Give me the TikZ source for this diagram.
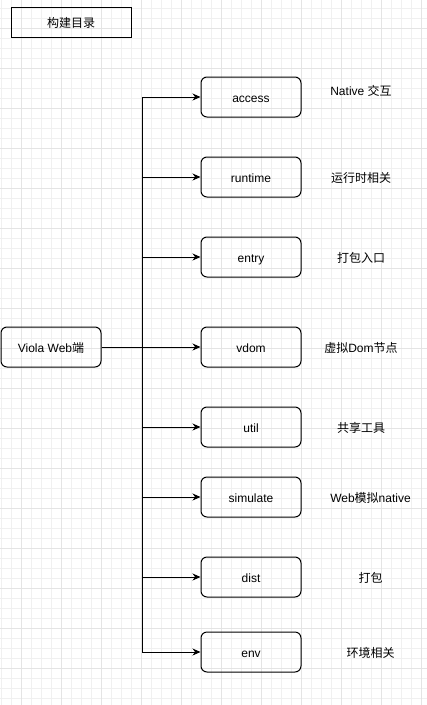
\documentclass[tikz,border=0pt]{standalone}
\usepackage{fontspec}
\setmainfont{Liberation Sans}
\newfontfamily\cjk{Noto Sans CJK SC}
\usetikzlibrary{arrows.meta}
\definecolor{gminor}{HTML}{F0F0F0}
\definecolor{gmajor}{HTML}{E4E4E4}
\begin{document}
\begin{tikzpicture}[x=1pt,y=-1pt,
  font=\fontsize{12}{14}\selectfont,
  every node/.style={text height=11pt, text depth=0.5pt},
  box/.style={draw, rounded corners=6pt, line width=1pt, minimum width=100pt, minimum height=40pt, inner sep=0pt},
  titlebox/.style={draw, line width=1pt, minimum width=120pt, minimum height=30pt, inner sep=0pt},
  lbl/.style={inner sep=0pt},
  conn/.style={line width=1pt, -{Stealth[length=8pt,width=7pt]}},
  trunk/.style={line width=1pt}]
\useasboundingbox (0,0) rectangle (427,705);
\fill[white] (0,0) rectangle (427,705);
% grid
\foreach \x in {1.7,11.7,...,427} \draw[gminor, line width=0.8pt] (\x,0) -- (\x,705);
\foreach \y in {8.3,18.3,...,705} \draw[gminor, line width=0.8pt] (0,\y) -- (427,\y);
\foreach \x in {21.7,61.7,...,427} \draw[gmajor, line width=0.8pt] (\x,0) -- (\x,705);
\foreach \y in {28.3,68.3,...,705} \draw[gmajor, line width=0.8pt] (0,\y) -- (427,\y);
% title
\node[titlebox] (title) at (71,22) {\cjk 构建目录};
% root
\node[box] (viola) at (51,347) {Viola Web{\cjk 端}};
% children
\node[box] (access) at (251,97) {access};
\node[box] (runtime) at (251,177) {runtime};
\node[box] (entry) at (251,257) {entry};
\node[box] (vdom) at (251,347) {vdom};
\node[box] (util) at (251,427) {util};
\node[box] (simulate) at (251,497) {simulate};
\node[box] (dist) at (251,577) {dist};
\node[box] (env) at (251,652) {env};
% labels
\node[lbl] (l1) at (361,90) {Native {\cjk 交互}};
\node[lbl] (l2) at (361,177) {\cjk 运行时相关};
\node[lbl] (l3) at (361,257) {\cjk 打包入口};
\node[lbl] (l4) at (361,347) {{\cjk 虚拟}Dom{\cjk 节点}};
\node[lbl] (l5) at (361,427) {\cjk 共享工具};
\node[lbl] (l6) at (370.5,497) {Web{\cjk 模拟}native};
\node[lbl] (l7) at (370.5,577) {\cjk 打包};
\node[lbl] (l8) at (370.5,652) {\cjk 环境相关};
% connectors
\coordinate (tx) at (142,0);
\draw[trunk] (tx |- access.west) -- (tx |- env.west);
\draw[conn] (viola.east) -- (vdom.west);
\foreach \n in {access,runtime,entry,util,simulate,dist,env}
  \draw[conn] (tx |- \n.west) -- (\n.west);
\end{tikzpicture}
\end{document}
